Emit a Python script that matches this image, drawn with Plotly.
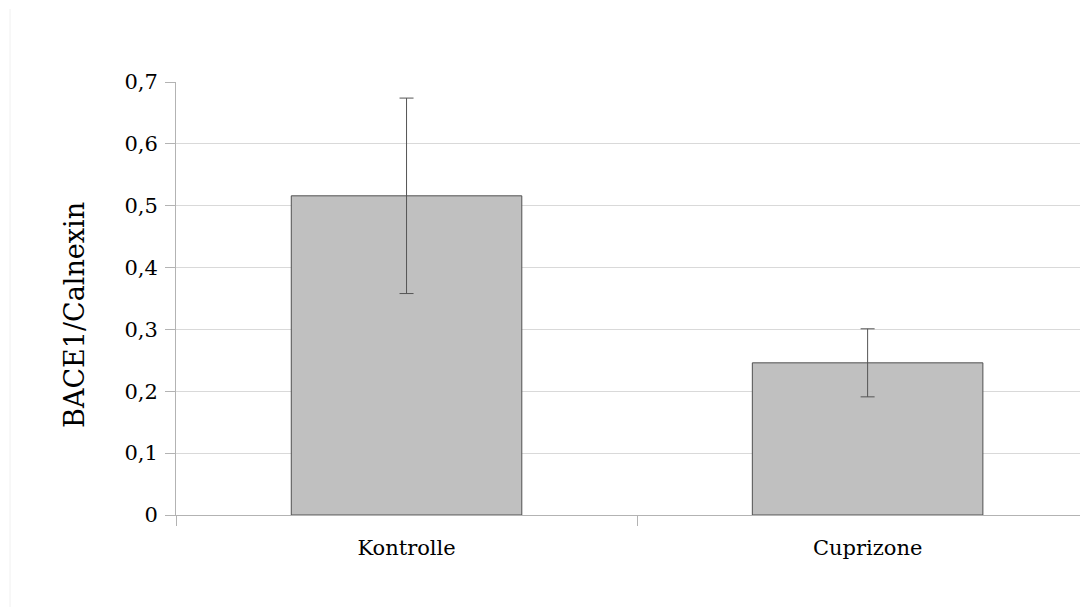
import plotly.graph_objects as go

categories = ["Kontrolle", "Cuprizone"]
values = [0.516, 0.246]
errors = [0.158, 0.055]
y_ticks = [0, 0.1, 0.2, 0.3, 0.4, 0.5, 0.6, 0.7]
y_tick_labels = ["0", "0,1", "0,2", "0,3", "0,4", "0,5", "0,6", "0,7"]
y_title = "BACE1/Calnexin"

font = "DejaVu Serif"

fig = go.Figure()
fig.add_trace(go.Bar(
    x=categories, y=values, width=0.5,
    marker=dict(color="#c0c0c0", line=dict(color="#505050", width=1)),
    error_y=dict(type="data", array=errors, visible=True, color="#555555", thickness=1, width=7),
))
fig.update_layout(
    width=1080, height=599,
    margin=dict(l=168, r=0, t=74, b=92),
    plot_bgcolor="white", paper_bgcolor="white",
    showlegend=False,
    font=dict(family=font, color="black"),
    xaxis=dict(
        range=[-0.5, 1.478], showline=True, linecolor="#b3b3b3", linewidth=1,
        ticks="outside", tickson="boundaries", ticklen=10, tickcolor="#b3b3b3",
        tickfont=dict(size=21, family=font), showgrid=False,
        ticklabelstandoff=14,
    ),
    yaxis=dict(
        range=[0, 0.7], tickvals=y_ticks, ticktext=y_tick_labels,
        showline=True, linecolor="#b3b3b3", linewidth=1,
        ticks="outside", ticklen=10, tickcolor="#b3b3b3",
        gridcolor="#d9d9d9", gridwidth=1,
        tickfont=dict(size=21, family=font),
        ticklabelstandoff=3,
        zeroline=False,
    ),
    annotations=[dict(
        text=y_title, textangle=-90, showarrow=False,
        xref="paper", yref="paper", x=0, y=0.462,
        xshift=-101, xanchor="center", yanchor="middle",
        font=dict(size=27, family=font, color="black"),
    )],
    shapes=[dict(
        type="line", xref="paper", yref="paper",
        x0=-0.182, x1=-0.182, y0=1.1686, y1=-0.25,
        line=dict(color="#f0f0f0", width=1),
    )],
)
fig.write_html("out.html")
